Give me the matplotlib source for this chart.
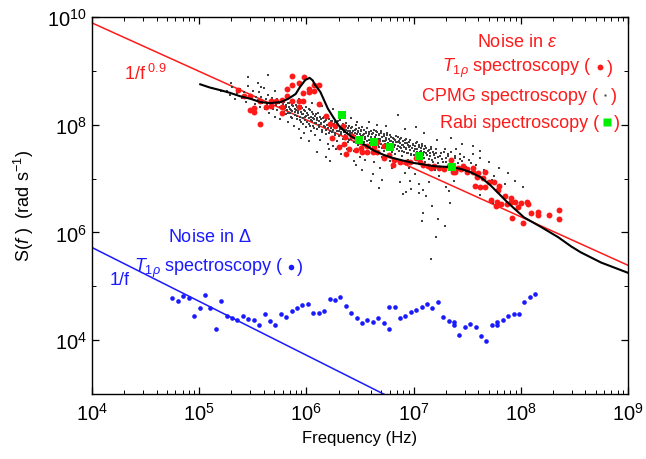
import numpy as np
import matplotlib
matplotlib.use("Agg")
import matplotlib.pyplot as plt
from matplotlib.ticker import FixedLocator, LogFormatterMathtext, NullFormatter

plt.rcParams['font.family'] = ['Liberation Sans', 'DejaVu Sans']
plt.rcParams['mathtext.fontset'] = 'custom'
plt.rcParams['mathtext.rm'] = 'Liberation Sans'
plt.rcParams['mathtext.it'] = 'Liberation Sans:italic'
plt.rcParams['mathtext.bf'] = 'Liberation Sans:bold'

# ───────── data (log10 values) ─────────
# T1rho spectroscopy, noise in epsilon (red dots)
t1_eps_logf = [5.36, 5.42, 5.47, 5.47, 5.51, 5.51, 5.57, 5.57, 5.62, 5.67, 5.67, 5.72, 5.77, 5.77, 5.77,
               5.82, 5.82, 5.87, 5.87, 5.87, 5.93, 5.93, 5.93, 5.97, 5.97, 5.98, 6.02, 6.02, 6.07, 6.07,
               6.12, 6.12, 6.18, 6.22, 6.27, 6.24, 6.30, 6.35, 6.37, 6.40, 6.43, 6.46, 6.34, 6.36, 6.47,
               6.51, 6.52, 6.57, 6.57, 6.62, 6.63, 6.66, 6.66, 6.72, 6.72, 6.77, 6.81, 6.82, 6.87, 6.93,
               6.97, 7.02, 7.06, 7.09, 7.13, 7.16, 7.19, 7.24, 7.28, 7.33, 7.35, 7.38, 7.39, 7.41, 7.37,
               7.44, 7.46, 7.50, 7.50, 7.55, 7.55, 7.60, 7.59, 7.65, 7.67, 7.70, 7.75, 7.80, 7.79, 7.57,
               7.62, 7.67, 7.72, 7.78, 7.77, 7.82, 7.85, 7.87, 7.91, 7.91, 7.95, 7.97, 8.00, 8.06, 8.07,
               7.92, 8.02, 8.10, 8.16, 8.16, 8.26, 8.36, 8.36]
t1_eps_logS = [8.64, 8.53, 8.53, 8.27, 8.31, 8.23, 8.44, 8.01, 8.33, 8.44, 8.35, 8.44, 8.46, 8.33, 8.22,
               8.66, 8.53, 8.74, 8.90, 8.44, 8.44, 8.33, 8.77, 8.59, 8.44, 8.88, 8.66, 8.61, 8.74, 8.62,
               8.74, 8.38, 8.16, 8.01, 7.97, 7.75, 7.58, 7.64, 7.45, 7.55, 7.79, 7.53, 7.97, 7.77, 7.71,
               7.57, 7.49, 7.49, 7.60, 7.49, 7.58, 7.49, 7.68, 7.60, 7.38, 7.43, 7.25, 7.34, 7.30, 7.30,
               7.30, 7.38, 7.30, 7.25, 7.23, 7.19, 7.23, 7.19, 7.17, 7.23, 7.34, 7.17, 7.12, 7.19, 7.12,
               7.17, 7.23, 7.17, 7.12, 7.19, 7.12, 7.10, 7.03, 7.01, 7.12, 6.93, 6.93, 6.86, 6.78, 6.86,
               6.84, 6.84, 6.60, 6.56, 6.49, 6.52, 6.67, 6.52, 6.64, 6.56, 6.56, 6.47, 6.54, 6.56, 6.52,
               6.26, 6.17, 6.36, 6.38, 6.32, 6.32, 6.41, 6.25]

# Rabi spectroscopy (green squares)
rabi_logf = [6.33, 6.49, 6.63, 6.78, 7.05, 7.36]
rabi_logS = [8.18, 7.71, 7.68, 7.58, 7.42, 7.21]

# T1rho spectroscopy, noise in Delta (blue dots)
t1_del_logf = [4.751, 4.802, 4.852, 4.903, 4.953, 5.004, 5.054, 5.105, 5.155, 5.206, 5.256, 5.307,
               5.357, 5.408, 5.458, 5.509, 5.559, 5.610, 5.660, 5.711, 5.761, 5.812, 5.862, 5.913,
               5.963, 6.014, 6.064, 6.115, 6.165, 6.216, 6.266, 6.317, 6.367, 6.418, 6.468, 6.519,
               6.569, 6.620, 6.670, 6.721, 6.771, 6.771, 6.822, 6.872, 6.923, 6.973, 7.024, 7.074,
               7.125, 7.175, 7.226, 7.276, 7.327, 7.377, 7.377, 7.428, 7.478, 7.529, 7.579, 7.630,
               7.680, 7.731, 7.781, 7.781, 7.832, 7.882, 7.933, 7.983, 8.034, 8.084, 8.135]
t1_del_logS = [4.79, 4.72, 4.82, 4.78, 4.45, 4.60, 4.84, 4.59, 4.20, 4.72, 4.44, 4.41,
               4.37, 4.44, 4.39, 4.37, 4.28, 4.49, 4.35, 4.28, 4.49, 4.43, 4.55, 4.60,
               4.65, 4.68, 4.50, 4.51, 4.55, 4.76, 4.75, 4.81, 4.63, 4.51, 4.42, 4.32,
               4.37, 4.34, 4.41, 4.32, 4.20, 4.62, 4.62, 4.41, 4.44, 4.52, 4.56, 4.62,
               4.67, 4.59, 4.70, 4.43, 4.35, 4.33, 4.28, 4.10, 4.24, 4.30, 4.25, 4.08,
               3.99, 4.28, 4.28, 4.34, 4.38, 4.44, 4.49, 4.49, 4.70, 4.81, 4.86]

# CPMG spectroscopy (small grey dots), (log10 f, log10 S)
cpmg_pts = [
    (5.12, 8.68), (5.20, 8.62), (5.26, 8.62), (5.29, 8.55), (5.30, 8.78), (5.31, 8.70), (5.33, 8.48),
    (5.35, 8.58), (5.38, 8.66), (5.40, 8.50), (5.42, 8.60), (5.44, 8.42), (5.46, 8.71), (5.46, 8.88),
    (5.47, 8.55), (5.49, 8.47), (5.50, 8.62), (5.52, 8.38), (5.53, 8.52), (5.55, 8.45), (5.56, 8.60),
    (5.57, 8.33), (5.58, 8.52), (5.58, 8.70), (5.59, 8.41), (5.60, 8.68), (5.61, 8.29), (5.62, 8.48),
    (5.63, 8.39), (5.64, 8.55), (5.64, 8.92), (5.65, 8.21), (5.66, 8.44), (5.67, 8.36), (5.68, 8.50),
    (5.69, 8.30), (5.70, 8.42), (5.71, 8.15), (5.72, 8.37), (5.73, 8.47), (5.73, 8.27), (5.74, 8.40),
    (5.75, 8.33), (5.75, 8.10), (5.76, 8.45), (5.77, 8.30), (5.78, 8.38), (5.79, 8.24), (5.79, 8.42),
    (5.80, 8.31), (5.81, 8.19), (5.81, 8.36), (5.82, 8.27), (5.83, 8.40), (5.83, 8.05), (5.84, 8.33),
    (5.85, 8.22), (5.85, 8.30), (5.86, 8.15), (5.87, 8.36), (5.87, 8.25), (5.88, 7.98), (5.89, 8.30),
    (5.89, 8.18), (5.90, 8.27), (5.91, 8.10), (5.91, 8.33), (5.92, 8.21), (5.93, 8.29), (5.93, 7.92),
    (5.94, 8.15), (5.95, 8.24), (5.95, 8.05), (5.95, 7.75), (5.96, 8.31), (5.97, 8.19), (5.97, 8.12),
    (5.98, 7.85), (5.99, 8.25), (5.99, 8.08), (6.00, 8.17), (6.00, 7.95), (6.01, 8.22), (6.02, 8.12),
    (6.02, 8.02), (6.02, 7.70), (6.03, 8.27), (6.04, 8.15), (6.04, 7.88), (6.05, 8.07), (6.05, 8.40),
    (6.06, 8.20), (6.06, 7.98), (6.07, 8.11), (6.08, 7.80), (6.08, 8.17), (6.09, 8.04), (6.10, 8.13),
    (6.10, 7.92), (6.10, 7.50), (6.11, 8.22), (6.12, 8.07), (6.12, 7.99), (6.13, 7.72), (6.14, 8.10),
    (6.14, 8.02), (6.15, 7.90), (6.15, 8.35), (6.16, 8.15), (6.16, 8.05), (6.17, 7.95), (6.18, 7.83),
    (6.18, 8.08), (6.18, 7.40), (6.19, 8.00), (6.20, 7.65), (6.20, 7.93), (6.21, 8.10), (6.22, 8.02),
    (6.22, 7.88), (6.22, 7.32), (6.23, 7.97), (6.24, 7.78), (6.24, 8.06), (6.25, 7.91), (6.25, 8.30),
    (6.25, 7.60), (6.26, 7.99), (6.27, 7.85), (6.27, 8.05), (6.28, 7.93), (6.28, 7.55), (6.29, 7.70),
    (6.29, 8.00), (6.30, 7.88), (6.31, 7.96), (6.31, 8.08), (6.32, 7.82), (6.32, 7.45), (6.33, 7.92),
    (6.33, 7.60), (6.34, 8.01), (6.35, 7.87), (6.35, 7.95), (6.36, 7.76), (6.36, 8.15), (6.37, 7.90),
    (6.37, 8.04), (6.38, 7.84), (6.38, 7.55), (6.39, 7.93), (6.39, 7.68), (6.40, 7.98), (6.41, 7.80),
    (6.41, 7.89), (6.42, 7.74), (6.42, 8.12), (6.43, 7.95), (6.43, 7.85), (6.44, 7.52), (6.45, 7.91),
    (6.45, 7.79), (6.46, 7.99), (6.46, 7.25), (6.47, 7.83), (6.47, 7.71), (6.48, 7.88), (6.48, 7.62),
    (6.49, 7.76), (6.49, 7.94), (6.50, 7.82), (6.50, 7.40), (6.51, 7.88), (6.52, 7.75), (6.52, 7.95),
    (6.53, 7.81), (6.53, 7.50), (6.54, 7.68), (6.54, 7.90), (6.55, 7.78), (6.55, 7.35), (6.56, 7.85),
    (6.56, 7.60), (6.57, 7.93), (6.58, 7.72), (6.58, 7.82), (6.58, 8.05), (6.59, 7.66), (6.60, 7.88),
    (6.60, 7.77), (6.60, 6.95), (6.61, 7.55), (6.62, 7.84), (6.62, 7.70), (6.63, 7.91), (6.63, 7.30),
    (6.64, 7.75), (6.64, 7.63), (6.65, 7.80), (6.66, 7.86), (6.66, 7.68), (6.66, 8.00), (6.67, 7.73),
    (6.68, 7.58), (6.68, 7.82), (6.68, 6.82), (6.69, 7.70), (6.69, 7.20), (6.70, 7.88), (6.70, 7.64),
    (6.71, 7.77), (6.71, 7.40), (6.72, 7.52), (6.72, 7.83), (6.73, 7.69), (6.74, 7.75), (6.74, 7.60),
    (6.75, 7.80), (6.76, 7.66), (6.77, 7.73), (6.77, 7.55), (6.78, 7.81), (6.79, 7.62), (6.79, 7.70),
    (6.80, 7.50), (6.80, 7.20), (6.81, 7.76), (6.81, 7.65), (6.82, 7.58), (6.83, 7.72), (6.83, 7.45),
    (6.84, 7.68), (6.85, 7.60), (6.85, 7.78), (6.85, 8.18), (6.86, 7.52), (6.87, 7.66), (6.87, 7.73),
    (6.87, 6.93), (6.88, 7.56), (6.89, 7.63), (6.89, 7.42), (6.90, 7.70), (6.90, 6.71), (6.91, 7.58),
    (6.91, 7.50), (6.92, 7.66), (6.92, 7.10), (6.93, 7.55), (6.93, 7.74), (6.93, 6.75), (6.94, 7.47),
    (6.95, 7.62), (6.95, 7.35), (6.96, 7.68), (6.97, 7.53), (6.97, 7.60), (6.97, 6.95), (6.98, 7.44),
    (6.98, 6.80), (6.99, 7.65), (7.00, 7.52), (7.01, 7.60), (7.02, 7.47), (7.02, 7.95), (7.03, 7.68),
    (7.03, 7.55), (7.04, 7.40), (7.05, 7.62), (7.05, 6.90), (7.05, 6.73), (7.06, 7.50), (7.07, 7.57),
    (7.07, 7.33), (7.08, 7.65), (7.08, 6.21), (7.09, 7.45), (7.09, 6.78), (7.09, 6.36), (7.10, 7.55),
    (7.10, 7.38), (7.10, 7.85), (7.11, 7.60), (7.12, 7.48), (7.12, 6.67), (7.13, 7.25), (7.14, 7.53),
    (7.15, 7.42), (7.16, 7.58), (7.16, 5.50), (7.17, 7.35), (7.17, 6.49), (7.18, 7.50), (7.19, 7.44),
    (7.20, 7.15), (7.21, 7.55), (7.21, 5.91), (7.23, 7.40), (7.23, 6.25), (7.24, 7.05), (7.26, 7.48),
    (7.27, 7.30), (7.29, 7.55), (7.29, 6.12), (7.30, 7.38), (7.30, 6.85), (7.32, 7.45), (7.33, 7.20),
    (7.33, 6.77), (7.34, 6.54), (7.35, 7.50), (7.35, 7.75), (7.37, 7.35), (7.38, 6.95), (7.39, 7.42),
    (7.41, 7.28), (7.43, 7.46), (7.45, 7.32), (7.45, 7.65), (7.47, 7.40), (7.49, 7.22), (7.52, 7.35),
    (7.55, 7.45), (7.55, 7.60), (7.58, 7.25), (7.62, 7.38), (7.62, 6.70), (7.66, 7.15), (7.70, 7.30),
    (7.75, 7.05), (7.80, 7.20), (7.85, 6.90), (7.95, 6.95),
]
cpmg_pts_extra = [
    (5.813, 8.33), (5.827, 8.21), (5.841, 8.41), (5.856, 8.28), (5.868, 8.12), (5.874, 8.34),
    (5.892, 8.23), (5.903, 8.37), (5.917, 8.16), (5.926, 8.26), (5.938, 8.08), (5.947, 8.35),
    (5.958, 8.19), (5.966, 8.02), (5.977, 8.27), (5.986, 8.14), (5.994, 8.33), (6.007, 8.05),
    (6.013, 8.18), (6.026, 8.29), (6.033, 7.97), (6.041, 8.09), (6.053, 8.23), (6.064, 8.13),
    (6.072, 7.93), (6.083, 8.04), (6.094, 8.19), (6.103, 8.08), (6.117, 7.96), (6.124, 8.15),
    (6.133, 8.03), (6.146, 7.86), (6.153, 8.12), (6.166, 7.98), (6.174, 8.07), (6.187, 7.91),
    (6.193, 8.17), (6.206, 7.99), (6.214, 7.84), (6.227, 8.06), (6.234, 7.94), (6.243, 7.87),
    (6.257, 8.02), (6.263, 7.80), (6.276, 7.96), (6.284, 7.89), (6.293, 8.07), (6.304, 7.79),
    (6.316, 7.92), (6.324, 7.86), (6.337, 7.98), (6.343, 7.73), (6.355, 7.90), (6.364, 7.81),
    (6.372, 7.97), (6.386, 7.88), (6.394, 7.71), (6.403, 7.85), (6.417, 7.94), (6.425, 7.79),
    (6.434, 7.88), (6.448, 7.67), (6.453, 7.84), (6.466, 7.92), (6.474, 7.77), (6.483, 7.86),
    (6.497, 7.70), (6.505, 7.79), (6.514, 7.91), (6.526, 7.63), (6.535, 7.83), (6.547, 7.74),
    (6.553, 7.87), (6.566, 7.69), (6.574, 7.79), (6.587, 7.86), (6.593, 7.61), (6.606, 7.74),
    (6.615, 7.82), (6.623, 7.66), (6.637, 7.78), (6.645, 7.89), (6.652, 7.71), (6.667, 7.62),
    (6.676, 7.80), (6.684, 7.73), (6.695, 7.85), (6.703, 7.57), (6.716, 7.69), (6.724, 7.79),
    (6.737, 7.64), (6.745, 7.72), (6.753, 7.84), (6.764, 7.60), (6.776, 7.69), (6.786, 7.77),
    (6.795, 7.55), (6.804, 7.68), (6.817, 7.73), (6.823, 7.62), (6.836, 7.79), (6.844, 7.54),
    (6.853, 7.67), (6.866, 7.70), (6.874, 7.59), (6.886, 7.76), (6.895, 7.51), (6.903, 7.62),
    (6.916, 7.71), (6.926, 7.56), (6.934, 7.66), (6.947, 7.48), (6.955, 7.59), (6.964, 7.72),
    (6.976, 7.45), (6.985, 7.57), (6.996, 7.63), (7.007, 7.43), (7.015, 7.54), (7.027, 7.66),
    (7.034, 7.49), (7.046, 7.58), (7.057, 7.36), (7.066, 7.52), (7.075, 7.61), (7.087, 7.44),
    (7.095, 7.50), (7.104, 7.30), (7.117, 7.56), (7.126, 7.43), (7.134, 7.51), (7.146, 7.37),
    (7.155, 7.47), (7.167, 7.55), (7.178, 7.31), (7.186, 7.46), (7.197, 7.39), (7.213, 7.48),
    (7.224, 7.28), (7.246, 7.42), (7.267, 7.36), (7.284, 7.50), (7.306, 7.31), (7.323, 7.41),
    (7.357, 7.27), (7.384, 7.38), (7.416, 7.17), (7.436, 7.36), (7.466, 7.26), (7.505, 7.12),
    (7.535, 7.28), (7.573, 7.18), (7.614, 7.08), (7.688, 7.12), (7.735, 6.98),
    (5.55, 8.78), (5.71, 8.62), (5.93, 8.48), (6.21, 7.55), (6.37, 7.45), (6.44, 7.33),
    (6.52, 7.15), (6.62, 7.08), (6.71, 6.98), (6.78, 7.32), (6.96, 7.20), (7.01, 7.08),
    (7.14, 6.94), (6.47, 8.05), (6.74, 7.98), (6.92, 7.92), (7.22, 7.72), (7.40, 7.55),
    (7.62, 7.52), (7.88, 7.10), (8.02, 6.85), (7.74, 6.55),
]

# model curve (black)
model_logf = [5.01, 5.10, 5.20, 5.29, 5.38, 5.48, 5.57, 5.66, 5.76, 5.83, 5.90, 5.94, 5.99, 6.03,
              6.06, 6.08, 6.13, 6.20, 6.25, 6.30, 6.36, 6.42, 6.48, 6.55, 6.63, 6.72, 6.81, 6.91,
              7.00, 7.10, 7.19, 7.28, 7.36, 7.44, 7.53, 7.63, 7.72, 7.79, 7.86, 7.93, 8.03, 8.19,
              8.35, 8.47, 8.56, 8.75, 9.00]
model_logS = [8.75, 8.69, 8.64, 8.59, 8.53, 8.48, 8.42, 8.40, 8.42, 8.48, 8.57, 8.70, 8.83, 8.87,
              8.82, 8.74, 8.61, 8.30, 8.14, 7.99, 7.87, 7.78, 7.71, 7.62, 7.52, 7.44, 7.38, 7.33,
              7.29, 7.26, 7.23, 7.22, 7.21, 7.18, 7.12, 7.02, 6.87, 6.73, 6.59, 6.46, 6.28, 6.10,
              5.91, 5.74, 5.63, 5.44, 5.25]

# power-law guides: S = amp * (f / 1e4)^(-alpha)
red_amp, red_alpha = 10**9.89, 0.9
blue_amp, blue_alpha = 10**5.72, 1.0

x_major = [1e4, 1e5, 1e6, 1e7, 1e8, 1e9]
y_major = [1e4, 1e6, 1e8, 1e10]
y_minor = [1e3, 1e5, 1e7, 1e9]

RED = '#ff1a1a'
BLUE = '#1a1aff'
GREEN = '#00ee00'
GREY = '0.25'

fig = plt.figure(figsize=(6.46, 4.60), dpi=100)
ax = fig.add_axes([0.1424, 0.1413, 0.8297, 0.8196])
ax.set_xscale('log')
ax.set_yscale('log')

f_line = np.array([1e4, 1e9])
ax.plot(f_line, red_amp * (f_line / 1e4) ** (-red_alpha), color=RED, lw=1.1, zorder=2)
ax.plot(f_line, blue_amp * (f_line / 1e4) ** (-blue_alpha), color=BLUE, lw=1.1, zorder=2)

cf, cs = zip(*(cpmg_pts + cpmg_pts_extra))
ax.scatter(10 ** np.array(cf), 10 ** np.array(cs), s=1.8, c=GREY, marker='s',
           linewidths=0, zorder=3)
ax.scatter(10 ** np.array(t1_eps_logf), 10 ** np.array(t1_eps_logS), s=18, c=RED,
           linewidths=0, zorder=4)
ax.plot(10 ** np.array(model_logf), 10 ** np.array(model_logS), color='k', lw=1.5, zorder=5)
ax.scatter(10 ** np.array(rabi_logf), 10 ** np.array(rabi_logS), s=28, c=GREEN, marker='s',
           linewidths=0, zorder=6)
ax.scatter(10 ** np.array(t1_del_logf), 10 ** np.array(t1_del_logS), s=11, c=BLUE,
           linewidths=0, zorder=4)

ax.set_xlim(1e4, 1e9)
ax.set_ylim(1e3, 1e10)

minor_x = [m * d for d in x_major[:-1] for m in range(2, 10)]
ax.xaxis.set_major_locator(FixedLocator(x_major))
ax.xaxis.set_minor_locator(FixedLocator(minor_x))
ax.xaxis.set_minor_formatter(NullFormatter())
ax.yaxis.set_major_locator(FixedLocator(y_major))
ax.yaxis.set_minor_locator(FixedLocator(y_minor))
ax.yaxis.set_minor_formatter(NullFormatter())
ax.xaxis.set_major_formatter(LogFormatterMathtext())
ax.yaxis.set_major_formatter(LogFormatterMathtext())
ax.tick_params(which='both', direction='in', top=True, right=True, labelsize=14.5)
ax.tick_params(which='major', length=5, width=0.9)
ax.tick_params(which='minor', length=3, width=0.7)
ax.tick_params(axis='x', pad=6)
for sp in ax.spines.values():
    sp.set_linewidth(1.0)

ax.set_xlabel('Frequency (Hz)', fontsize=12, labelpad=4)
ax.set_ylabel(r'S($f$ )  (rad s$^{-1}$)', fontsize=13, labelpad=8)

# annotations
FS = 13
tk = dict(transform=ax.transAxes, va='center', fontsize=FS)
ax.text(0.060, 0.851, r'1/f$^{\,\,0.9}$', color=RED, ha='left', **tk)
ax.text(0.032, 0.305, '1/f', color=BLUE, ha='left', **tk)

ax.text(0.793, 0.936, r'Noise in $\varepsilon$', color=RED, ha='center', **tk)

# legend-style rows: text, symbol, closing bracket
ax.text(0.932, 0.867, r'$T_{1\rho}$ spectroscopy (', color=RED, ha='right', **tk)
ax.plot([0.948], [0.867], 'o', ms=4.2, color=RED, mec='none', transform=ax.transAxes,
        clip_on=False)
ax.text(0.960, 0.867, ')', color=RED, ha='left', **tk)

ax.text(0.944, 0.793, 'CPMG spectroscopy (', color=RED, ha='right', **tk)
ax.plot([0.957], [0.793], 's', ms=1.8, color=GREY, mec='none', transform=ax.transAxes,
        clip_on=False)
ax.text(0.968, 0.793, ')', color=RED, ha='left', **tk)

ax.text(0.946, 0.721, 'Rabi spectroscopy (', color=RED, ha='right', **tk)
ax.plot([0.961], [0.721], 's', ms=5.5, color=GREEN, mec='none', transform=ax.transAxes,
        clip_on=False)
ax.text(0.974, 0.721, ')', color=RED, ha='left', **tk)

ax.text(0.220, 0.419, r'Noise in $\Delta$', color=BLUE, ha='center', **tk)
ax.text(0.358, 0.337, r'$T_{1\rho}$ spectroscopy (', color=BLUE, ha='right', **tk)
ax.plot([0.371], [0.337], 'o', ms=4.0, color=BLUE, mec='none', transform=ax.transAxes,
        clip_on=False)
ax.text(0.382, 0.337, ')', color=BLUE, ha='left', **tk)

fig.savefig('out.png', dpi=100)
